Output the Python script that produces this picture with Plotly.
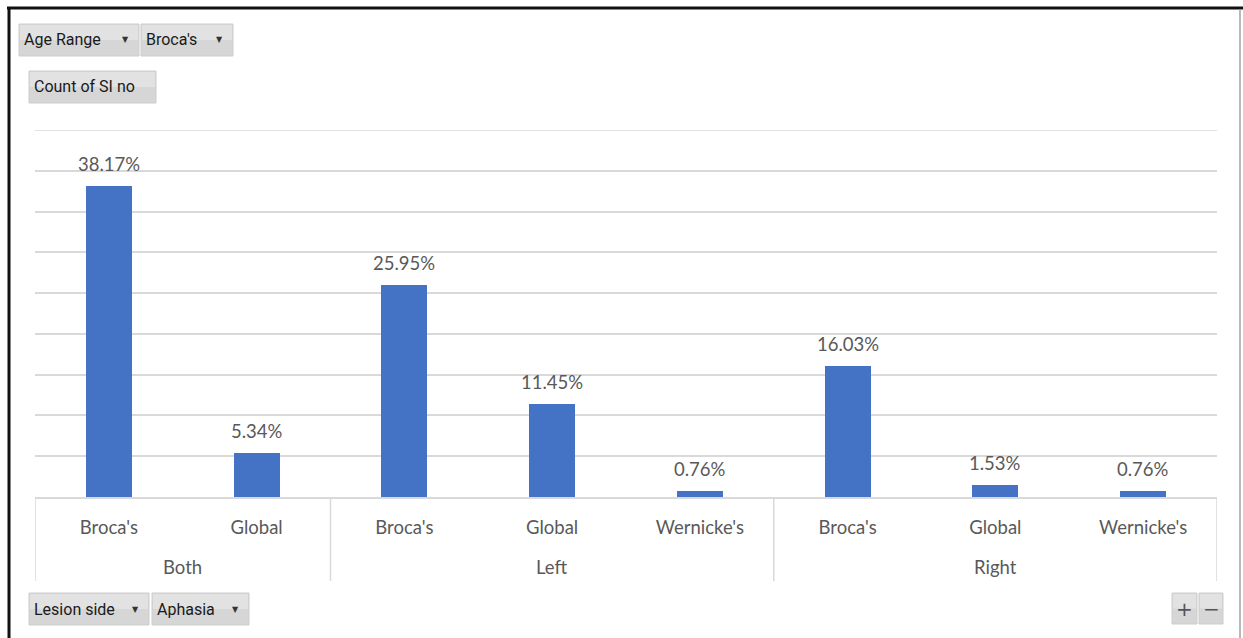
import plotly.graph_objects as go

# Pivot chart data: share of "Count of SI no" by lesion side and aphasia type
lesion_side = ["Both", "Both", "Left", "Left", "Left", "Right", "Right", "Right"]
aphasia = ["Broca's", "Global", "Broca's", "Global", "Wernicke's", "Broca's", "Global", "Wernicke's"]
percent = [38.17, 5.34, 25.95, 11.45, 0.76, 16.03, 1.53, 0.76]

y_max = 45
y_step = 5

W, H = 1243, 638
L, R, T, B = 35, 1217, 130, 497  # plot area in pixels

FONT = "Lato"
FS = 18.5
TXT = "#595959"
GRID = "#d9d9d9"
BAR = "#4472C4"


def px(x):
    return (x - L) / (R - L)


def py(y):
    return (B - y) / (B - T)


xs = list(range(len(aphasia)))

fig = go.Figure()
fig.add_trace(go.Bar(
    x=xs, y=percent, width=0.31,
    marker=dict(color=BAR, line=dict(width=0)),
    hoverinfo="skip",
))

# value labels above each bar
for x, v in zip(xs, percent):
    fig.add_annotation(x=x, y=v, text=f"{v:.2f}%", showarrow=False,
                       yanchor="middle", yshift=22,
                       font=dict(family=FONT, size=FS, color=TXT))

shapes = []
# top gridline at the end of the value range
shapes.append(dict(type="line", xref="paper", yref="y", x0=0, x1=1, y0=y_max, y1=y_max,
                   line=dict(color=GRID, width=1.5), layer="below"))

# outer group labels and separators
groups = []
for i, g in enumerate(lesion_side):
    if not groups or groups[-1][0] != g:
        groups.append([g, i, i])
    else:
        groups[-1][2] = i

bounds = [groups[0][1] - 0.5] + [g[2] + 0.5 for g in groups]
for b in bounds:
    shapes.append(dict(type="line", xref="x", yref="paper", x0=b, x1=b,
                       y0=0, y1=py(581), line=dict(color=GRID, width=1.5)))
for g, a, b in groups:
    fig.add_annotation(x=(a + b) / 2, xref="x", y=py(567), yref="paper",
                       text=g, showarrow=False, yanchor="middle",
                       font=dict(family=FONT, size=FS, color=TXT))

# field buttons of the pivot chart
BTN_FONT = "Roboto"


def button(x0, y0, x1, y1, label, arrow=False, center=False):
    shapes.append(dict(type="rect", xref="paper", yref="paper",
                       x0=px(x0), x1=px(x1), y0=py(y0), y1=py(y1),
                       fillcolor="#d6d6d6", line=dict(color="#cdcdcd", width=1),
                       layer="above"))
    shapes.append(dict(type="rect", xref="paper", yref="paper",
                       x0=px(x0 + 1), x1=px(x1 - 1), y0=py(y0 + 1), y1=py((y0 + y1) / 2),
                       fillcolor="#e2e2e2", line=dict(width=0), layer="above"))
    if center:
        fig.add_annotation(x=px((x0 + x1) / 2), y=py((y0 + y1) / 2), xref="paper", yref="paper",
                           text=label, showarrow=False, xanchor="center", yanchor="middle",
                           font=dict(family="DejaVu Sans", size=20, color="#555555"))
    else:
        fig.add_annotation(x=px(x0 + 3), y=py((y0 + y1) / 2), xref="paper", yref="paper",
                           text=label, showarrow=False, xanchor="left", yanchor="middle",
                           font=dict(family=BTN_FONT, size=16, color="#1a1a1a"))
    if arrow:
        fig.add_annotation(x=px(x1 - 14), y=py((y0 + y1) / 2), xref="paper", yref="paper",
                           text="▼", showarrow=False, xanchor="center", yanchor="middle",
                           font=dict(family="DejaVu Sans", size=8, color="#333333"))


button(19, 24, 139, 56, "Age Range", arrow=True)
button(141, 24, 233, 56, "Broca's", arrow=True)
button(29, 71, 156, 103, "Count of SI no")
button(29, 593, 149, 625, "Lesion side", arrow=True)
button(152, 593, 249, 625, "Aphasia", arrow=True)
button(1172, 593, 1197, 624, "+", center=True)
button(1199, 593, 1223, 624, "−", center=True)

# frame around the chart object
shapes.append(dict(type="line", xref="paper", yref="paper", x0=px(7), x1=px(1243),
                   y0=py(8), y1=py(8), line=dict(color="#111111", width=3), layer="above"))
shapes.append(dict(type="line", xref="paper", yref="paper", x0=px(9), x1=px(9),
                   y0=py(7), y1=py(640), line=dict(color="#111111", width=3), layer="above"))
shapes.append(dict(type="line", xref="paper", yref="paper", x0=px(1240), x1=px(1240),
                   y0=py(9), y1=py(640), line=dict(color="#a0a0a0", width=1.5), layer="above"))

fig.update_layout(
    width=W, height=H,
    margin=dict(l=L, r=W - R, t=T, b=H - B),
    paper_bgcolor="white", plot_bgcolor="white",
    showlegend=False,
    shapes=shapes,
    bargap=0,
    xaxis=dict(
        range=[-0.5, len(xs) - 0.5],
        tickmode="array", tickvals=xs, ticktext=aphasia,
        ticks="", showgrid=False, zeroline=False,
        showline=True, linecolor=GRID, linewidth=1.5,
        tickfont=dict(family=FONT, size=FS, color=TXT),
        ticklabelstandoff=13,
        fixedrange=True,
    ),
    yaxis=dict(
        range=[0, y_max], dtick=y_step, showticklabels=False,
        showgrid=True, gridcolor=GRID, gridwidth=1.5,
        zeroline=False, showline=False, fixedrange=True,
    ),
)

fig.write_html("out.html")
